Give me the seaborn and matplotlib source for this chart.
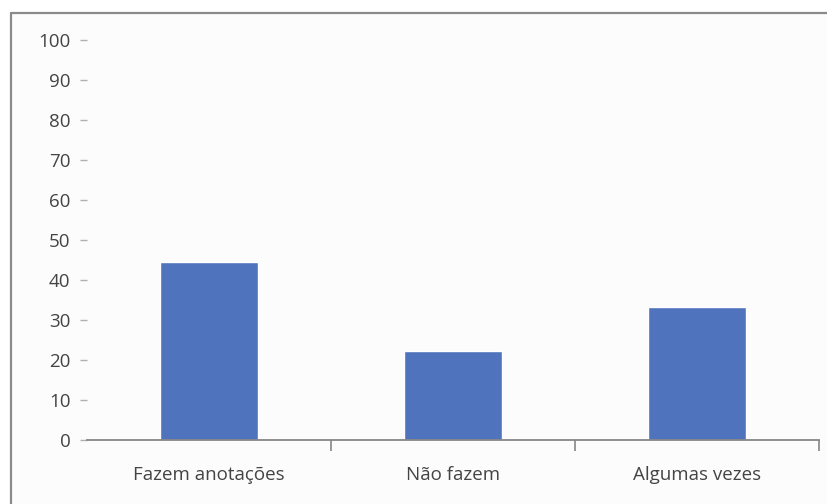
import matplotlib
matplotlib.use("Agg")
import matplotlib.pyplot as plt
from matplotlib.lines import Line2D
from matplotlib.patches import Rectangle
import seaborn as sns
import pandas as pd

# Respostas sobre anotações (percentual)
categorias = ["Fazem anotações", "Não fazem", "Algumas vezes"]
percentuais = [44.4, 22.2, 33.3]
yticks = list(range(0, 101, 10))

sns.set_theme(style="white")
plt.rcParams["font.family"] = ["Open Sans", "DejaVu Sans"]

W, H = 828, 504
fig = plt.figure(figsize=(W / 100, H / 100), dpi=100)
fig.patch.set_facecolor("white")

# Chart area frame (extends past the right and bottom edges)
fig.patches.append(Rectangle((11 / W, 0), 1, 1 - 13 / H, transform=fig.transFigure,
                             facecolor="#fcfcfc", edgecolor="none", zorder=-10))
fig.lines.append(Line2D([11 / W, 1], [1 - 13 / H, 1 - 13 / H], transform=fig.transFigure,
                        color="#8a8a8a", lw=1.6, zorder=-5))
fig.lines.append(Line2D([11 / W, 11 / W], [0, 1 - 13 / H], transform=fig.transFigure,
                        color="#8a8a8a", lw=1.6, zorder=-5))

ax = fig.add_axes([87 / W, 1 - 440 / H, (819 - 87) / W, (440 - 40) / H])
ax.set_facecolor("none")
ax.set_zorder(5)

df = pd.DataFrame({"categoria": categorias, "percentual": percentuais})
sns.barplot(data=df, x="categoria", y="percentual", color="#5073bd",
            saturation=1, width=0.4, ax=ax)

ax.set_xlim(-0.5, 2.5)
ax.set_ylim(0, 100)
ax.set_yticks(yticks)
ax.set_xlabel("")
ax.set_ylabel("")

for s in ["top", "right", "left"]:
    ax.spines[s].set_visible(False)
ax.spines["bottom"].set_color("#868686")
ax.spines["bottom"].set_linewidth(1.3)

ax.tick_params(axis="y", which="major", left=True, length=5, width=1,
               color="#b0b0b0", pad=7, labelsize=13.5, labelcolor="#444444")
ax.tick_params(axis="x", which="major", bottom=False, pad=13,
               labelsize=13.5, labelcolor="#444444")
ax.set_xticks([0.5, 1.5, 2.5], minor=True)
ax.tick_params(axis="x", which="minor", bottom=True, length=8, width=1.2,
               color="#868686")

fig.savefig("out.png", dpi=100)
